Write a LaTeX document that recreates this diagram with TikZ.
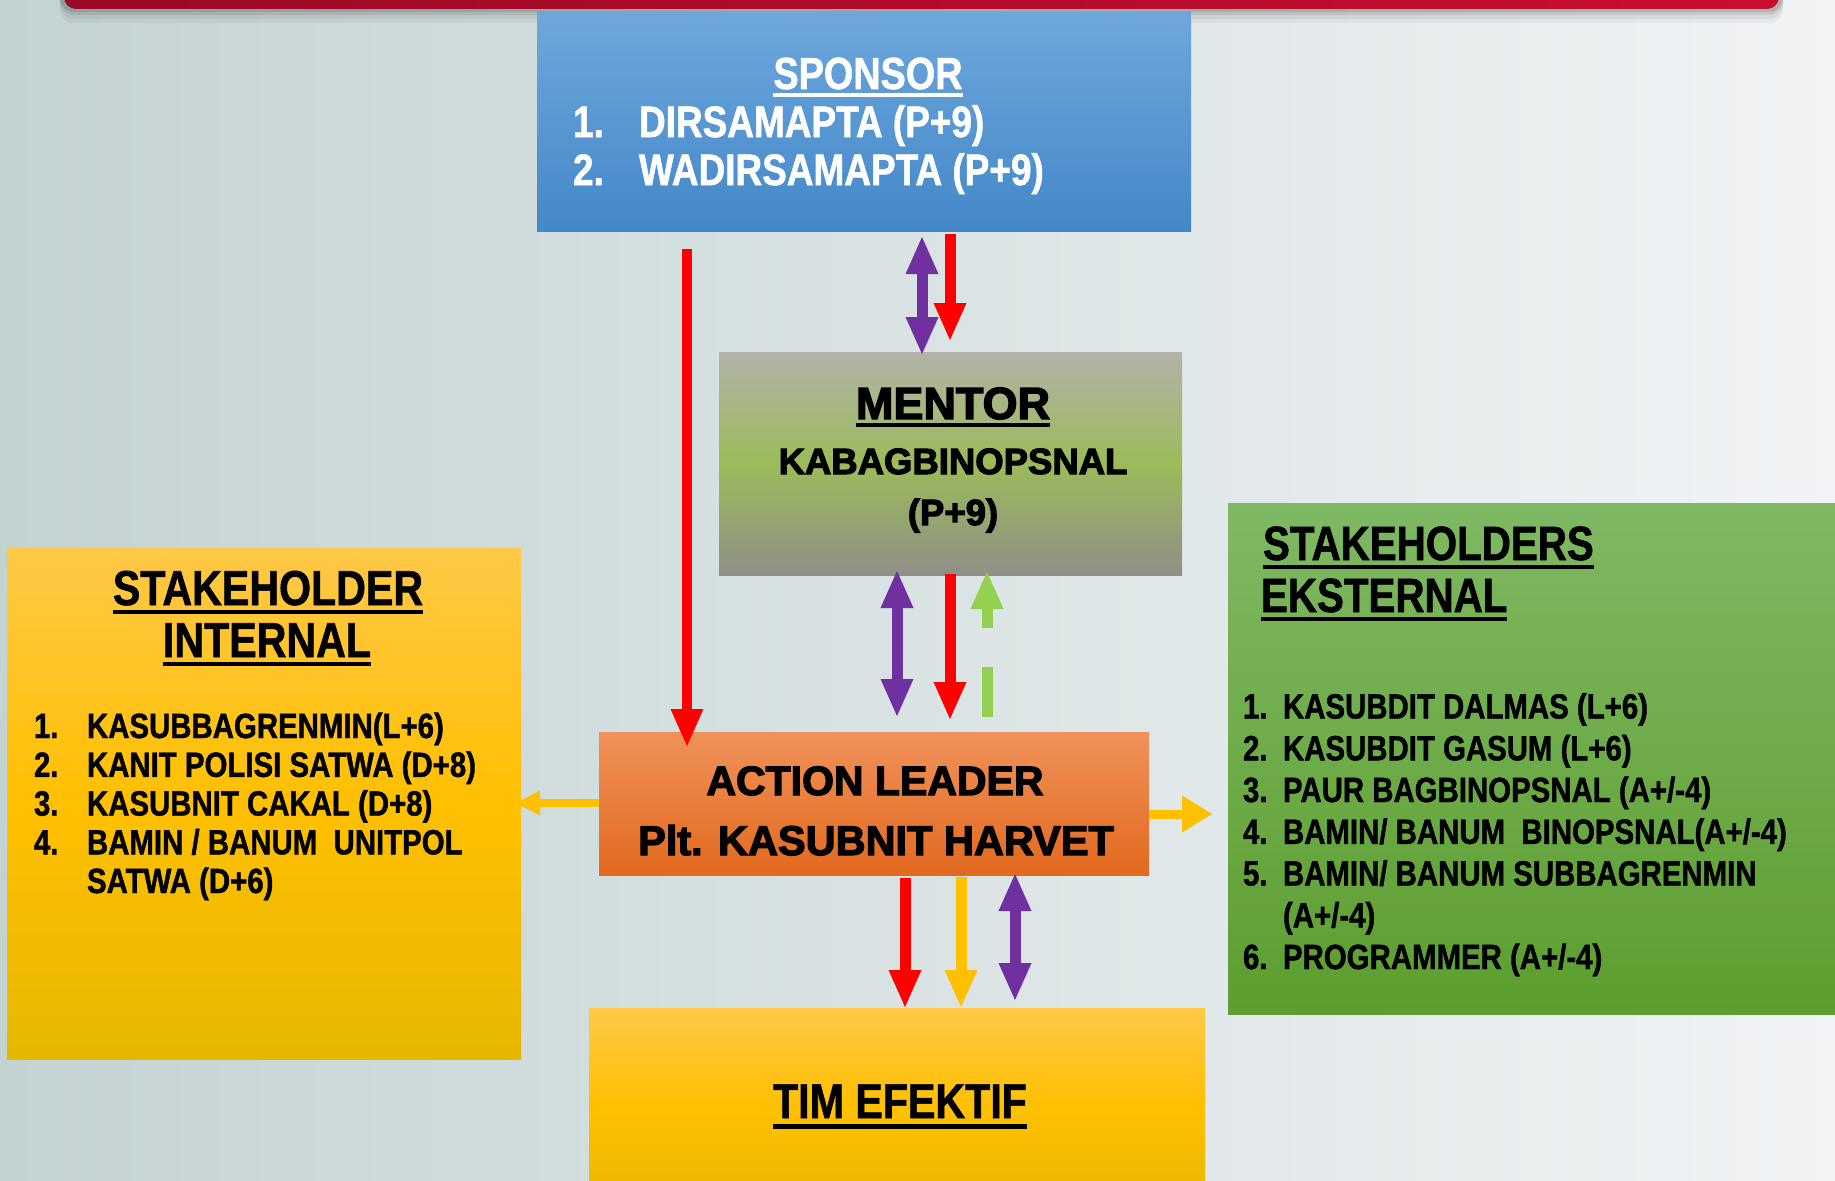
\documentclass[tikz,border=0pt]{standalone}
\usepackage{fontspec}
\setmainfont{Liberation Sans}
\newfontfamily\narrowf{Liberation Sans}[FakeStretch=0.84,BoldFeatures={FakeBold=1.2}]
\newfontfamily\heavyf{Liberation Sans}[BoldFeatures={FakeBold=3}]
\usetikzlibrary{arrows.meta,calc}
\newcommand\fnar[1]{\narrowf\bfseries\fontsize{#1}{#1}\selectfont}
\newcommand\fhev[1]{\heavyf\bfseries\fontsize{#1}{#1}\selectfont}
\definecolor{bgL}{HTML}{C3D3D2}
\definecolor{bgR}{HTML}{F1F3F5}
\definecolor{barL}{HTML}{9A0A27}
\definecolor{barR}{HTML}{CA0E30}
\definecolor{cSpT}{HTML}{6EA7DD}
\definecolor{cSpB}{HTML}{4388C8}
\definecolor{cMeT}{HTML}{B2B2AA}
\definecolor{cMeM}{HTML}{9BBB59}
\definecolor{cMeB}{HTML}{8F8F88}
\definecolor{cAlT}{HTML}{F0925A}
\definecolor{cAlB}{HTML}{E2691E}
\definecolor{cYeT}{HTML}{FFC847}
\definecolor{cYeM}{HTML}{FFC000}
\definecolor{cYeB}{HTML}{E6B700}
\definecolor{cGrT}{HTML}{7FB863}
\definecolor{cGrB}{HTML}{5C9E2F}
\definecolor{aRed}{HTML}{FF0000}
\definecolor{aPur}{HTML}{7030A0}
\definecolor{aYel}{HTML}{FFC000}
\definecolor{aGrn}{HTML}{92D050}
\begin{document}
\begin{tikzpicture}[x=1pt,y=-1pt,
  box/.style={anchor=north west,inner sep=0pt,outer sep=0pt,draw=none},
  txt/.style={inner sep=0pt,outer sep=0pt},
  fat/.style={line width=11pt,-{Triangle[length=37pt,width=33pt,line width=0pt]}},
  fatboth/.style={line width=11pt,{Triangle[length=37pt,width=33pt,line width=0pt]}-{Triangle[length=37pt,width=33pt,line width=0pt]}},
  ula/.style={line width=4.5pt}
]
\useasboundingbox (0,0) rectangle (1835,1180);
\clip (0,0) rectangle (1835,1180);
\shade[left color=bgL, right color=bgR] (0,0) rectangle (1835,1180);
% top bar with shadow
\foreach \o/\a in {14/0.04,10/0.06,6/0.08,3/0.1}
  \fill[black, opacity=\a, rounded corners=14pt] (60,-30) rectangle (1783,9+\o);
\shade[left color=barL, right color=barR, rounded corners=12pt] (64,-30) rectangle (1779,9);

% boxes
\node[box, top color=cSpT, bottom color=cSpB, minimum width=654pt, minimum height=219pt] (sponsor) at (537,12) {};
\node[box, top color=cMeT, bottom color=cMeB, middle color=cMeM, minimum width=463pt, minimum height=223pt] (mentor) at (719,352) {};
\node[box, top color=cAlT, bottom color=cAlB, minimum width=550pt, minimum height=143pt] (al) at (599,732) {};
\node[box, top color=cYeT, bottom color=cYeB, middle color=cYeM, minimum width=514pt, minimum height=511pt] (sint) at (7,548) {};
\node[box, top color=cGrT, bottom color=cGrB, minimum width=620pt, minimum height=511pt] (sext) at (1228,503) {};
\node[box, top color=cYeT, bottom color=cYeB, middle color=cYeM, minimum width=616pt, minimum height=200pt] (tim) at (589,1008) {};

% sponsor text
\node[txt, anchor=base, text=white, font=\fnar{45}] (tsp) at (868,89) {SPONSOR};
\draw[white, ula] ([yshift=-6pt]tsp.base west) -- ([yshift=-6pt]tsp.base east);
\node[txt, anchor=base west, text=white, font=\fnar{44}] (sp1n) at (573,137) {1.};
\node[txt, anchor=base west, text=white, font=\fnar{44}] (sp1) at (639,137) {DIRSAMAPTA (P+9)};
\node[txt, anchor=base west, text=white, font=\fnar{44}] (sp2n) at (573,185) {2.};
\node[txt, anchor=base west, text=white, font=\fnar{44}] (sp2) at (639,185) {WADIRSAMAPTA (P+9)};

% mentor text
\node[txt, anchor=base, font=\fhev{45}] (tme) at (953,419) {MENTOR};
\draw[ula] ([yshift=-6pt]tme.base west) -- ([yshift=-6pt]tme.base east);
\node[txt, anchor=base, font=\fhev{36.5}] (tme2) at (953,474) {KABAGBINOPSNAL};
\node[txt, anchor=base, font=\fhev{36.5}] (tme3) at (953,525) {(P+9)};

% action leader text
\node[txt, anchor=base, font=\fhev{41}] (tal1) at (875,795) {ACTION LEADER};
\node[txt, anchor=base, font=\fhev{41.5}] (tal2) at (876,855) {Plt. KASUBNIT HARVET};

% tim efektif
\node[txt, anchor=base, font=\fnar{49}] (ttim) at (900,1118) {TIM EFEKTIF};
\draw[ula, line width=5pt] ([yshift=-8pt]ttim.base west) -- ([yshift=-8pt]ttim.base east);

% stakeholder internal
\node[txt, anchor=base, font=\fnar{49}] (tsi1) at (268,605) {STAKEHOLDER};
\draw[ula] ([yshift=-7pt]tsi1.base west) -- ([yshift=-7pt]tsi1.base east);
\node[txt, anchor=base, font=\fnar{49}] (tsi2) at (267,657) {INTERNAL};
\draw[ula] ([yshift=-7pt]tsi2.base west) -- ([yshift=-7pt]tsi2.base east);
\node[txt, anchor=base west, font=\fnar{35}] (si1n) at (34,738) {1.};
\node[txt, anchor=base west, font=\fnar{35}] (si1) at (87,738) {KASUBBAGRENMIN(L+6)};
\node[txt, anchor=base west, font=\fnar{35}] (si2n) at (34,776.8) {2.};
\node[txt, anchor=base west, font=\fnar{35}] (si2) at (87,776.8) {KANIT POLISI SATWA (D+8)};
\node[txt, anchor=base west, font=\fnar{35}] (si3n) at (34,815.5) {3.};
\node[txt, anchor=base west, font=\fnar{35}] (si3) at (87,815.5) {KASUBNIT CAKAL (D+8)};
\node[txt, anchor=base west, font=\fnar{35}] (si4n) at (34,854.3) {4.};
\node[txt, anchor=base west, font=\fnar{35}] (si4) at (87,854.3) {BAMIN / BANUM\ \ UNITPOL};
\node[txt, anchor=base west, font=\fnar{35}] (si4b) at (87,893) {SATWA (D+6)};

% stakeholders eksternal
\node[txt, anchor=base west, font=\fnar{48}] (tse1) at (1263,560) {STAKEHOLDERS};
\draw[ula] ([yshift=-7pt]tse1.base west) -- ([yshift=-7pt]tse1.base east);
\node[txt, anchor=base west, font=\fnar{48}] (tse2) at (1261,612) {EKSTERNAL};
\draw[ula] ([yshift=-7pt]tse2.base west) -- ([yshift=-7pt]tse2.base east);
\node[txt, anchor=base west, font=\fnar{35}] (se1n) at (1243,718.5) {1.};
\node[txt, anchor=base west, font=\fnar{35}] (se1) at (1283,718.5) {KASUBDIT DALMAS (L+6)};
\node[txt, anchor=base west, font=\fnar{35}] (se2n) at (1243,760.3) {2.};
\node[txt, anchor=base west, font=\fnar{35}] (se2) at (1283,760.3) {KASUBDIT GASUM (L+6)};
\node[txt, anchor=base west, font=\fnar{35}] (se3n) at (1243,802) {3.};
\node[txt, anchor=base west, font=\fnar{35}] (se3) at (1283,802) {PAUR BAGBINOPSNAL (A+/-4)};
\node[txt, anchor=base west, font=\fnar{35}] (se4n) at (1243,843.8) {4.};
\node[txt, anchor=base west, font=\fnar{35}] (se4) at (1283,843.8) {BAMIN/ BANUM\ \ BINOPSNAL(A+/-4)};
\node[txt, anchor=base west, font=\fnar{35}] (se5n) at (1243,885.5) {5.};
\node[txt, anchor=base west, font=\fnar{35}] (se5) at (1283,885.5) {BAMIN/ BANUM SUBBAGRENMIN};
\node[txt, anchor=base west, font=\fnar{35}] (se5b) at (1283,927.3) {(A+/-4)};
\node[txt, anchor=base west, font=\fnar{35}] (se6n) at (1243,969) {6.};
\node[txt, anchor=base west, font=\fnar{35}] (se6) at (1283,969) {PROGRAMMER (A+/-4)};

% connectors sponsor <-> mentor
\draw[aPur, fatboth] ($(sponsor.south west)+(385,6)$) -- ($(mentor.north west)+(203,2)$);
\draw[aRed, fat] ($(sponsor.south west)+(413,3)$) -- ($(mentor.north west)+(231,-12)$);
% sponsor -> action leader (long red)
\draw[aRed, fat, line width=10.5pt] ($(sponsor.south west)+(150,18)$) -- ($(al.north west)+(88,14)$);
% mentor <-> action leader
\draw[aPur, fatboth] ($(mentor.south west)+(178,-4)$) -- ($(al.north west)+(298,-16)$);
\draw[aRed, fat] ($(mentor.south west)+(231,-1)$) -- ($(al.north west)+(351,-13)$);
\draw[aGrn, fat, dash pattern=on 50pt off 39pt on 80pt] ($(al.north west)+(388,-15)$) -- ($(mentor.south west)+(268,-3)$);
% action leader -> stakeholders
\draw[aYel, line width=8pt, -{Triangle[length=24pt,width=25pt,line width=0pt]}] ($(al.north west)+(0,71)$) -- ($(sint.north east)+(-5,255)$);
\draw[aYel, line width=9pt, -{Triangle[length=30pt,width=37pt,line width=0pt]}] ($(al.north east)+(0,82)$) -- ($(sext.north west)+(-16,311)$);
% action leader -> tim efektif
\draw[aRed, fat] ($(al.south west)+(306,3)$) -- ($(tim.north west)+(316,-1)$);
\draw[aYel, fat] ($(al.south west)+(362,2)$) -- ($(tim.north west)+(372,-1)$);
\draw[aPur, fatboth] ($(al.south west)+(416,-1)$) -- ($(tim.north west)+(426,-8)$);
\end{tikzpicture}
\end{document}
